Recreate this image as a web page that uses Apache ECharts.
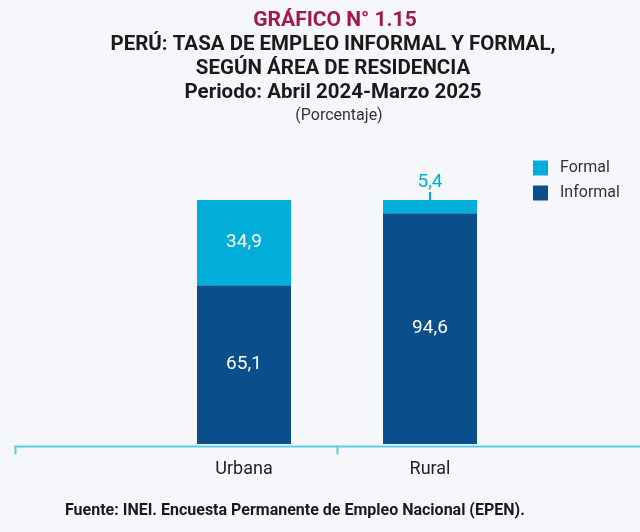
<!DOCTYPE html>
<html>
<head>
<meta charset="utf-8">
<script src="https://cdn.jsdelivr.net/npm/echarts@6/dist/echarts.min.js"></script>
<style>
  html, body { margin: 0; padding: 0; background: #f5f7fa; }
  #chart { width: 640px; height: 532px; }
</style>
</head>
<body>
<div id="chart"></div>
<script>
// datos del gráfico
var categorias = ['Urbana', 'Rural'];
var informal = [65.1, 94.6];
var formal = [34.9, 5.4];

var colorFormal = '#00aed9';
var colorInformal = '#0a4f8b';

function fmt(v) {
    return String(v).replace('.', ',');
}

// etiquetas blancas dentro; si el tramo es chico, etiqueta arriba con guía
var formalData = formal.map(function (v) {
    if (v < 10) {
        return {
            value: v,
            label: { position: 'inside', color: colorFormal },
            labelLine: { show: true, lineStyle: { color: colorFormal, width: 2 } }
        };
    }
    return v;
});

var chart = echarts.init(document.getElementById('chart'));
var option = {
    backgroundColor: '#f5f7fa',
    textStyle: { fontFamily: 'Roboto' },
    title: [
        {
            text: 'GRÁFICO N° 1.15',
            left: 330, top: 5, textAlign: 'center',
            textStyle: { color: '#a3174b', fontSize: 21, fontWeight: 'bold' }
        },
        {
            text: 'PERÚ: TASA DE EMPLEO INFORMAL Y FORMAL,\nSEGÚN ÁREA DE RESIDENCIA\nPeriodo: Abril 2024-Marzo 2025',
            left: 328, top: 28, textAlign: 'center',
            textStyle: { color: '#1a1a1a', fontSize: 20.5, fontWeight: 'bold', lineHeight: 24 }
        },
        {
            text: '(Porcentaje)',
            left: 334, top: 103, textAlign: 'center',
            textStyle: { color: '#333333', fontSize: 16, fontWeight: 'normal' }
        },
        {
            text: 'Fuente: INEI. Encuesta Permanente de Empleo Nacional (EPEN).',
            left: 60, top: 498,
            textStyle: { color: '#1a1a1a', fontSize: 16, fontWeight: 'bold' }
        }
    ],
    legend: {
        orient: 'vertical',
        left: 528, top: 155,
        itemWidth: 15, itemHeight: 15, itemGap: 9,
        icon: 'rect',
        data: ['Formal', 'Informal'],
        textStyle: { color: '#333333', fontSize: 16, padding: [0, 0, 0, 7] }
    },
    grid: { left: 151, right: 117, top: 200, bottom: 88 },
    xAxis: {
        type: 'category',
        data: categorias,
        axisLine: { show: false },
        axisTick: { show: false },
        axisLabel: { color: '#222222', fontSize: 18, margin: 16 }
    },
    yAxis: {
        type: 'value', min: 0, max: 100,
        show: false,
        splitLine: { show: false }
    },
    graphic: [
        {
            type: 'group', left: 12, top: 443, silent: true,
            children: [
                { type: 'line', shape: { x1: 0, y1: 1, x2: 628, y2: 1 }, style: { stroke: '#5ccbe8', lineWidth: 2 } },
                { type: 'line', shape: { x1: 1, y1: 0, x2: 1, y2: 9 }, style: { stroke: '#5ccbe8', lineWidth: 2 } },
                { type: 'line', shape: { x1: 323, y1: 0, x2: 323, y2: 9 }, style: { stroke: '#5ccbe8', lineWidth: 2 } }
            ]
        }
    ],
    series: [
        {
            name: 'Informal',
            type: 'bar', stack: 'total',
            barWidth: 94,
            data: informal,
            itemStyle: { color: colorInformal },
            label: {
                show: true, position: 'inside', color: '#ffffff', fontSize: 19,
                formatter: function (p) { return fmt(p.value); }
            }
        },
        {
            name: 'Formal',
            type: 'bar', stack: 'total',
            barWidth: 94,
            data: formalData,
            itemStyle: { color: colorFormal },
            label: {
                show: true, position: 'inside', color: '#ffffff', fontSize: 19,
                formatter: function (p) { return fmt(p.value); }
            },
            labelLayout: function (p) {
                if (formal[p.dataIndex] < 10) {
                    return { dy: -24 };
                }
                return {};
            }
        }
    ]
};
chart.setOption(option);
</script>
</body>
</html>
